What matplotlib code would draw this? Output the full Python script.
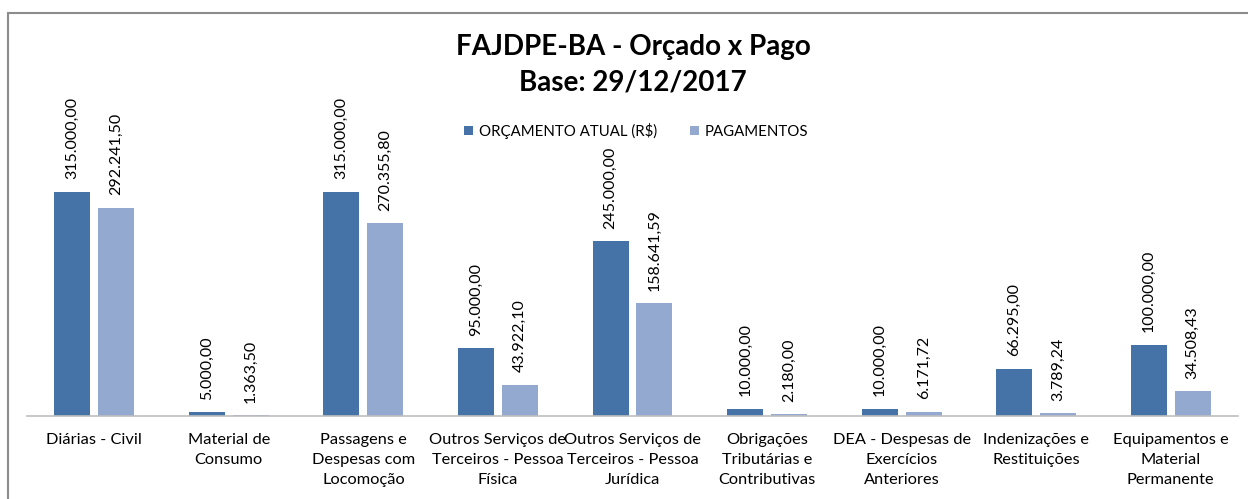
import matplotlib.pyplot as plt
import numpy as np
from matplotlib.patches import Rectangle

categories = [
    "Diárias - Civil",
    "Material de\nConsumo",
    "Passagens e\nDespesas com\nLocomoção",
    "Outros Serviços de\nTerceiros - Pessoa\nFísica",
    "Outros Serviços de\nTerceiros - Pessoa\nJurídica",
    "Obrigações\nTributárias e\nContributivas",
    "DEA - Despesas de\nExercícios\nAnteriores",
    "Indenizações e\nRestituições",
    "Equipamentos e\nMaterial\nPermanente",
]
orcamento = [315000.00, 5000.00, 315000.00, 95000.00, 245000.00, 10000.00, 10000.00, 66295.00, 100000.00]
pagamentos = [292241.50, 1363.50, 270355.80, 43922.10, 158641.59, 2180.00, 6171.72, 3789.24, 34508.43]

DARK = "#4572A7"
LIGHT = "#93A9CF"

plt.rcParams['font.family'] = ['Lato', 'DejaVu Sans']


def br(v):
    # 1234.5 -> 1.234,50
    return f"{v:,.2f}".replace(",", "X").replace(".", ",").replace("X", ".")


W, H = 1248, 499
fig = plt.figure(figsize=(W / 100, H / 100), dpi=100)

# chart frame (cut off at right and bottom like the screenshot)
fig.patches.append(Rectangle((8 / W, -0.1), 1.2, 1 - 13 / H + 0.1, transform=fig.transFigure,
                             fill=False, edgecolor="#8c8c8c", linewidth=1.5))

ax = fig.add_axes([27 / W, 83 / H, 1211 / W, 250 / H])
x = np.arange(len(categories))
bw = 0.267
off = 0.163
b1 = ax.bar(x - off, orcamento, bw, color=DARK, linewidth=0, label="ORÇAMENTO ATUAL (R$)")
b2 = ax.bar(x + off, pagamentos, bw, color=LIGHT, linewidth=0, label="PAGAMENTOS")

for bars, vals in ((b1, orcamento), (b2, pagamentos)):
    for rect, v in zip(bars, vals):
        ax.annotate(br(v), (rect.get_x() + rect.get_width() / 2, rect.get_height()),
                    xytext=(0, 9), textcoords="offset points", rotation=90,
                    ha="center", va="bottom", fontsize=11.5, color="#000000")

ax.set_xlim(-0.5, len(categories) - 0.5)
ax.set_ylim(0, 351000)
ax.set_xticks(x)
ax.set_xticklabels(categories, fontsize=11.8, linespacing=1.55)
ax.tick_params(axis="x", length=0, pad=12)
ax.set_yticks([])
for s in ("top", "left", "right"):
    ax.spines[s].set_visible(False)
ax.spines["bottom"].set_color("#bfbfbf")
ax.spines["bottom"].set_linewidth(1.2)
ax.set_facecolor("none")

fig.text(633 / W, 1 - 47 / H, "FAJDPE-BA - Orçado x Pago", ha="center", va="center",
         fontsize=20, fontweight="bold")
fig.text(633 / W, 1 - 83 / H, "Base: 29/12/2017", ha="center", va="center",
         fontsize=20, fontweight="bold")

fig.legend(handles=[b1, b2], loc="center", bbox_to_anchor=(636 / W, 1 - 131 / H), ncol=2,
           frameon=False, fontsize=10.8, handlelength=0.6, handleheight=0.6,
           handletextpad=0.4, columnspacing=2.2)

fig.savefig("out.png", dpi=100)
